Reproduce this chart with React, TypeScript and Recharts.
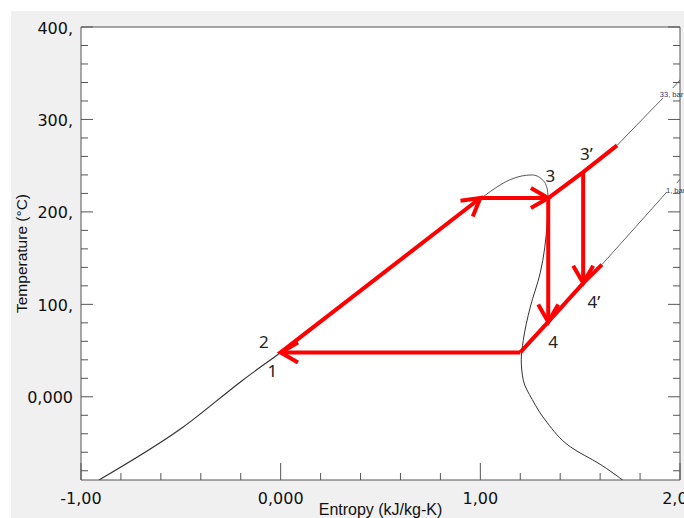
import { LineChart, Line, XAxis, YAxis, CartesianGrid, ReferenceDot } from "recharts"

// saturation dome, in three pieces: liquid line, top of the dome, vapour line
const liquidLine = [
  { s: -0.91, T: -90 },
  { s: -0.49, T: -33 },
  { s: -0.19, T: 18 },
  { s: 0, T: 48 },
  { s: 0.5, T: 131 },
  { s: 1.0, T: 214 },
]
const domeTop = [
  { s: 1.0, T: 214 },
  { s: 1.05, T: 222 },
  { s: 1.15, T: 235 },
  { s: 1.26, T: 240 },
  { s: 1.31, T: 235 },
  { s: 1.335, T: 225 },
  { s: 1.34, T: 215 },
]
const vapourLine = [
  { s: 1.34, T: 215 },
  { s: 1.335, T: 188 },
  { s: 1.3, T: 134 },
  { s: 1.25, T: 97 },
  { s: 1.215, T: 61 },
  { s: 1.205, T: 40 },
  { s: 1.215, T: 18 },
  { s: 1.26, T: -3 },
  { s: 1.335, T: -28 },
  { s: 1.45, T: -54 },
  { s: 1.6, T: -73 },
  { s: 1.725, T: -92 },
]

// isobars beyond the cycle (gap where the small label sits)
const isobarHighGray = [
  { s: 1.685, T: 272 },
  { s: 1.914, T: 323 },
  { s: 1.94, T: null },
  { s: 1.964, T: 334 },
  { s: 2.03, T: 350 },
]
const isobarLowGray = [
  { s: 1.609, T: 143 },
  { s: 1.899, T: 213 },
  { s: 1.934, T: 221.5 },
  { s: 1.96, T: null },
  { s: 1.984, T: 231 },
  { s: 2.03, T: 244 },
]

// cycle
const isobarHighRed = [
  { s: 1.34, T: 215 },
  { s: 1.515, T: 243 },
  { s: 1.685, T: 272 },
]
const isobarLowRed = [
  { s: 1.2, T: 48 },
  { s: 1.34, T: 81 },
  { s: 1.515, T: 123 },
  { s: 1.609, T: 143 },
]
const condensing = [
  { s: 1.2, T: 48 },
  { s: 0, T: 48 },
]
const heating = [
  { s: 0, T: 48 },
  { s: 1.0, T: 215 },
]
const boiling = [
  { s: 1.0, T: 215 },
  { s: 1.34, T: 215 },
]
const expansion = [
  { s: 1.34, T: 215 },
  { s: 1.34, T: 81 },
]
const expansionPrime = [
  { s: 1.515, T: 243 },
  { s: 1.515, T: 123 },
]

const stateLabels = [
  { s: -0.041, T: 21.5, text: "1" },
  { s: -0.084, T: 53, text: "2" },
  { s: 1.351, T: 232, text: "3" },
  { s: 1.531, T: 256, text: "3’" },
  { s: 1.364, T: 53, text: "4" },
  { s: 1.569, T: 96, text: "4’" },
]
const isobarLabels = [
  { s: 1.899, T: 324, text: "33, bar" },
  { s: 1.93, T: 220.5, text: "1, bar" },
]

const xTicks = [-1, -0.8, -0.6, -0.4, -0.2, 0, 0.2, 0.4, 0.6, 0.8, 1, 1.2, 1.4, 1.6, 1.8, 2]
const yTicks = [-80, -60, -40, -20, 0, 20, 40, 60, 80, 100, 120, 140, 160, 180, 200, 220, 240, 260, 280, 300, 320, 340, 360, 380, 400]
const xTickLabels: Record<string, string> = { "-1": "-1,00", "0": "0,000", "1": "1,00", "2": "2,00" }
const yTickLabels: Record<string, string> = { "0": "0,000", "100": "100,", "200": "200,", "300": "300,", "400": "400," }

const AXIS = "#555"
const RED = "#ff0000"
const CURVE = "#333"
const TICK_FONT = "'DejaVu Sans', sans-serif"

const isMajorX = (v: number) => Math.abs(v - Math.round(v)) < 1e-6
const isMajorY = (v: number) => Math.abs(v / 100 - Math.round(v / 100)) < 1e-6

const BottomTick = (p: any) => {
  const v = p.payload.value
  const major = isMajorX(v)
  return (
    <g>
      <line x1={p.x} x2={p.x} y1={p.y} y2={p.y - (major ? 17 : 7)} stroke={AXIS} />
      {major && (
        <text x={p.x} y={p.y + 24} textAnchor="middle" fontFamily={TICK_FONT} fontSize={16} fill="#111">
          {xTickLabels[String(Math.round(v))]}
        </text>
      )}
    </g>
  )
}
const TopTick = (p: any) => {
  const major = isMajorX(p.payload.value)
  return <line x1={p.x} x2={p.x} y1={p.y} y2={p.y + (major ? 12 : 7)} stroke={AXIS} />
}
const LeftTick = (p: any) => {
  const v = p.payload.value
  const major = isMajorY(v)
  return (
    <g>
      <line x1={p.x} x2={p.x + (major ? 12 : 7)} y1={p.y} y2={p.y} stroke={AXIS} />
      {major && (
        <text x={p.x - 8} y={p.y + 6.5} textAnchor="end" fontFamily={TICK_FONT} fontSize={16} fill="#111">
          {yTickLabels[String(Math.round(v))]}
        </text>
      )}
    </g>
  )
}
const RightTick = (p: any) => {
  const major = isMajorY(p.payload.value)
  return <line x1={p.x} x2={p.x - (major ? 12 : 7)} y1={p.y} y2={p.y} stroke={AXIS} />
}

// open arrow head at the last point of a two-point segment
function makeArrowDot(name: string) {
  let px = 0
  let py = 0
  return (p: any) => {
    const { cx, cy, index } = p
    if (index === 0) {
      px = cx
      py = cy
      return <g key={`${name}-${index}`} />
    }
    const prev = p.points && p.points[index - 1]
    const fx = prev ? prev.x : px
    const fy = prev ? prev.y : py
    const ang = Math.atan2(cy - fy, cx - fx)
    const L = 20
    const a = Math.PI / 6
    const x1 = cx - L * Math.cos(ang - a)
    const y1 = cy - L * Math.sin(ang - a)
    const x2 = cx - L * Math.cos(ang + a)
    const y2 = cy - L * Math.sin(ang + a)
    return (
      <polyline
        key={`${name}-${index}`}
        points={`${x1},${y1} ${cx},${cy} ${x2},${y2}`}
        fill="none"
        stroke={RED}
        strokeWidth={4}
      />
    )
  }
}

const redLine = (data: any[], name: string, arrow: boolean) => (
  <Line
    key={name}
    data={data}
    dataKey="T"
    type="linear"
    stroke={RED}
    strokeWidth={4}
    dot={arrow ? makeArrowDot(name) : false}
    activeDot={false}
    isAnimationActive={false}
  />
)

export default function App() {
  return (
    <div style={{ position: "absolute", left: 0, top: 0, width: 684, height: 518, background: "#fff", overflow: "hidden" }}>
      <div style={{ position: "absolute", left: 11, top: 11, width: 673, height: 507, background: "#f0f0f0" }} />
      <div style={{ position: "absolute", left: 0, top: 0 }}>
        <LineChart width={684} height={518} margin={{ top: 0, right: 0, bottom: 0, left: 0 }}>
          <CartesianGrid horizontal={false} vertical={false} fill="#fff" />
          <XAxis
            type="number"
            dataKey="s"
            domain={[-1, 2]}
            allowDataOverflow
            ticks={xTicks}
            interval={0}
            height={38}
            tickSize={0}
            tickMargin={0}
            tickLine={false}
            axisLine={{ stroke: AXIS }}
            tick={<BottomTick />}
            label={{
              content: (p: any) => (
                <text
                  x={p.viewBox.x + p.viewBox.width / 2}
                  y={515}
                  textAnchor="middle"
                  fontFamily="'Liberation Sans', Arial, sans-serif"
                  fontSize={16}
                  fill="#111"
                >
                  Entropy (kJ/kg-K)
                </text>
              ),
            }}
          />
          <XAxis
            xAxisId="top"
            orientation="top"
            type="number"
            domain={[-1, 2]}
            allowDataOverflow
            ticks={xTicks}
            interval={0}
            height={27}
            tickSize={0}
            tickMargin={0}
            tickLine={false}
            axisLine={{ stroke: AXIS }}
            tick={<TopTick />}
          />
          <YAxis
            type="number"
            dataKey="T"
            domain={[-90, 400]}
            allowDataOverflow
            ticks={yTicks}
            interval={0}
            width={81}
            tickSize={0}
            tickMargin={0}
            tickLine={false}
            axisLine={{ stroke: AXIS }}
            tick={<LeftTick />}
            label={{
              content: (p: any) => {
                const cy = p.viewBox.y + p.viewBox.height / 2
                return (
                  <text
                    x={27}
                    y={cy}
                    transform={`rotate(-90, 27, ${cy})`}
                    textAnchor="middle"
                    fontFamily="'Liberation Sans', Arial, sans-serif"
                    fontSize={15.5}
                    fill="#111"
                  >
                    Temperature (°C)
                  </text>
                )
              },
            }}
          />
          <YAxis
            yAxisId="right"
            orientation="right"
            type="number"
            domain={[-90, 400]}
            allowDataOverflow
            ticks={yTicks}
            interval={0}
            width={4}
            tickSize={0}
            tickMargin={0}
            tickLine={false}
            axisLine={{ stroke: AXIS }}
            tick={<RightTick />}
          />

          <Line data={liquidLine} dataKey="T" type="monotoneX" stroke={CURVE} strokeWidth={1.2} dot={false} activeDot={false} isAnimationActive={false} />
          <Line data={domeTop} dataKey="T" type="monotoneX" stroke="#555" strokeWidth={1} dot={false} activeDot={false} isAnimationActive={false} />
          <Line data={vapourLine} dataKey="T" type="monotoneY" stroke={CURVE} strokeWidth={1} dot={false} activeDot={false} isAnimationActive={false} />
          <Line data={isobarHighGray} dataKey="T" type="linear" stroke="#666" strokeWidth={1} dot={false} activeDot={false} isAnimationActive={false} />
          <Line data={isobarLowGray} dataKey="T" type="linear" stroke="#666" strokeWidth={1} dot={false} activeDot={false} isAnimationActive={false} />

          {redLine(isobarHighRed, "high", false)}
          {redLine(isobarLowRed, "low", false)}
          {redLine(condensing, "cond", true)}
          {redLine(heating, "heat", true)}
          {redLine(boiling, "boil", true)}
          {redLine(expansion, "exp", true)}
          {redLine(expansionPrime, "expp", true)}

          {stateLabels.map((d) => (
            <ReferenceDot
              key={d.text}
              x={d.s}
              y={d.T}
              r={0}
              ifOverflow="visible"
              shape={(p: any) => (
                <text x={p.cx} y={p.cy} textAnchor="middle" fontFamily="'Noto Sans', sans-serif" fontSize={17} fill="#222">
                  {d.text}
                </text>
              )}
            />
          ))}
          {isobarLabels.map((d) => (
            <ReferenceDot
              key={d.text}
              x={d.s}
              y={d.T}
              r={0}
              ifOverflow="hidden"
              shape={(p: any) => (
                <text x={p.cx} y={p.cy} textAnchor="start" fontFamily="'Liberation Sans', Arial, sans-serif" fontSize={7.5} fill="#2d3a6a">
                  {d.text}
                </text>
              )}
            />
          ))}
        </LineChart>
      </div>
    </div>
  )
}
